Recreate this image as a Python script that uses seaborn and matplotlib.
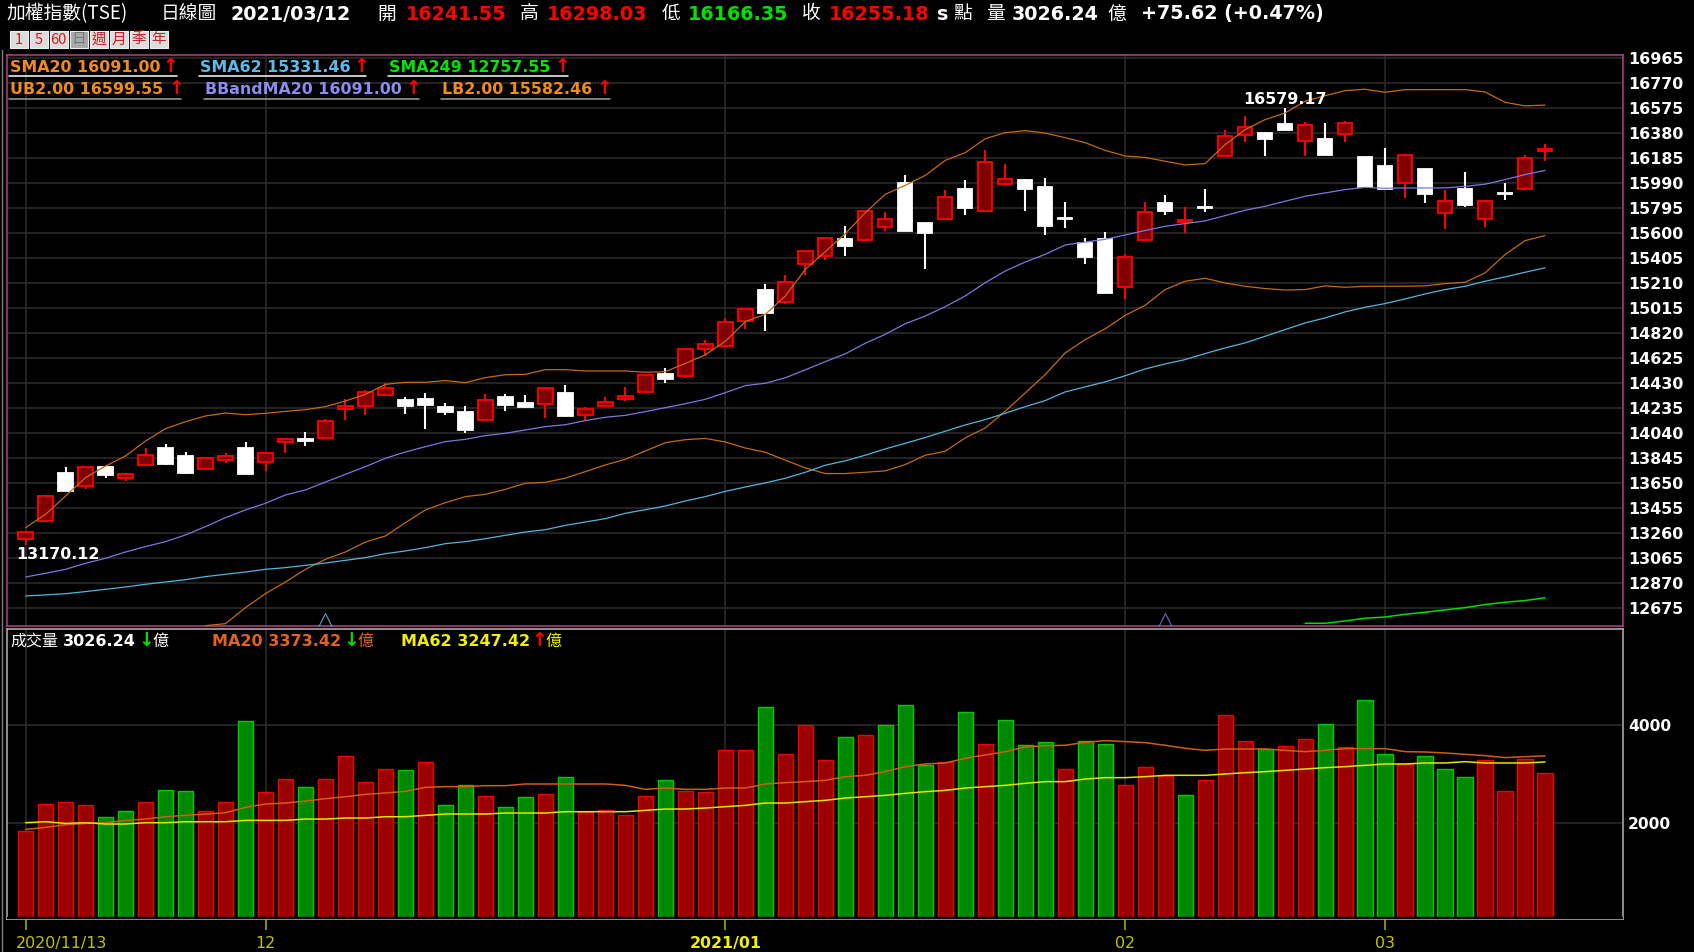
import matplotlib
matplotlib.use('Agg')
import matplotlib.pyplot as plt
from matplotlib.lines import Line2D
from matplotlib.patches import Rectangle
import seaborn as sns

# candles, oldest first (2020/11/13 .. 2021/03/12)
opens = [13218,13356,13730,13629,13777,13694,13793,13925,13866,13764,13832,13925,13814,13970,13996,14006,14232,14253,14339,
         14297,14308,14248,14209,14146,14326,14276,14271,14354,14185,14253,14310,14360,14505,14487,14700,14721,14916,15155,
         15064,15363,15423,15553,15550,15647,15992,15680,15714,15946,15777,15987,16013,15964,15719,15524,15556,15179,15548,
         15834,15691,15808,16201,16367,16383,16451,16318,16334,16378,16196,16128,15996,16100,15762,15944,15715,15918,15949,16241.55]
highs = [13270,13554,13780,13777,13780,13730,13925,13954,13894,13855,13884,13972,13884,14006,14053,14149,14310,14375,14430,
         14326,14357,14279,14256,14347,14347,14336,14393,14414,14245,14326,14404,14492,14549,14695,14765,14942,15007,15207,
         15272,15465,15563,15654,15777,15769,16052,15680,15935,16013,16247,16143,16026,16034,15847,15563,15613,15436,15847,
         15902,15806,15944,16409,16518,16391,16579.17,16469,16461,16479,16196,16266,16214,16100,15941,16079,15863,15990,16214,16298.03]
lows = [13170.12,13356,13587,13608,13694,13665,13793,13793,13723,13764,13811,13725,13746,13889,13938,14006,14141,14180,14339,
        14191,14076,14180,14045,14146,14211,14235,14162,14172,14141,14253,14289,14360,14435,14474,14643,14721,14856,14835,
        15051,15275,15389,15420,15550,15615,15615,15324,15714,15743,15777,15977,15771,15587,15644,15361,15137,15090,15548,
        15741,15603,15769,16201,16315,16206,16404,16206,16209,16315,15962,15949,15879,15837,15634,15808,15652,15858,15949,16166.35]
closes = [13270,13554,13587,13777,13715,13720,13873,13801,13733,13845,13866,13725,13884,13993,13977,14139,14256,14365,14393,
          14253,14258,14209,14063,14302,14261,14248,14393,14172,14227,14287,14331,14492,14466,14695,14734,14911,15007,14981,
          15220,15465,15563,15498,15777,15709,15615,15605,15886,15800,16159,16021,15948,15654,15709,15413,15137,15415,15764,
          15772,15707,15798,16360,16430,16336,16404,16448,16209,16458,15962,15949,16214,15907,15853,15819,15853,15910,16185,16255.18]

ub = [13304,13408,13551,13694,13785,13863,13980,14076,14131,14175,14198,14185,14196,14211,14224,14248,14292,14344,14422,
      14438,14438,14451,14435,14474,14497,14500,14536,14536,14526,14526,14526,14516,14521,14585,14652,14758,14911,14968,
      15111,15319,15457,15597,15761,15904,15974,16052,16169,16229,16338,16385,16401,16382,16346,16307,16247,16203,16192,
      16162,16133,16144,16292,16409,16487,16539,16630,16674,16713,16724,16700,16721,16721,16721,16721,16703,16622,16594,16600]
lb_start = 9
lb = [12539,12555,12680,12789,12880,12979,13057,13114,13192,13239,13343,13442,13499,13546,13564,13603,13650,13658,13690,
      13741,13793,13837,13902,13967,13990,14000,13972,13925,13892,13830,13770,13726,13726,13736,13747,13796,13869,13900,
      14004,14082,14212,14355,14498,14667,14771,14855,14960,15039,15161,15226,15249,15213,15187,15169,15158,15161,15190,
      15179,15187,15187,15187,15190,15208,15218,15291,15434,15543,15582]
sma20 = [12919,12948,12979,13026,13065,13114,13156,13195,13247,13312,13382,13442,13494,13559,13598,13660,13720,13780,13845,
         13894,13936,13975,13993,14022,14040,14066,14092,14107,14139,14165,14180,14209,14240,14271,14305,14357,14412,14430,
         14473,14535,14599,14660,14742,14812,14895,14955,15028,15111,15215,15306,15376,15436,15509,15532,15553,15587,15622,
         15655,15676,15697,15738,15780,15811,15850,15889,15915,15941,15959,15951,15954,15954,15954,15967,15983,16019,16058,16091]
sma62 = [12771,12779,12789,12805,12823,12841,12862,12880,12898,12922,12940,12958,12979,12992,13010,13028,13049,13070,13101,
         13122,13148,13179,13195,13218,13244,13270,13288,13322,13348,13374,13416,13444,13473,13512,13546,13587,13621,13653,
         13689,13736,13791,13825,13869,13918,13962,14007,14056,14105,14147,14196,14248,14295,14363,14402,14441,14489,14542,
         14581,14615,14662,14706,14745,14797,14849,14901,14940,14987,15023,15052,15088,15127,15161,15187,15226,15260,15296,15331]
sma249_start = 64
sma249 = [12558,12558,12576,12597,12607,12628,12644,12662,12680,12704,12722,12735,12757]

volume = [1829,2390,2418,2363,2110,2233,2418,2671,2644,2233,2418,4082,2623,2904,2726,2904,3370,2829,3110,3082,3240,2363,2774,
          2548,2315,2521,2596,2932,2226,2253,2158,2548,2877,2644,2623,3493,3493,4370,3418,4007,3288,3754,3802,4007,4418,3185,
          3240,4267,3623,4110,3596,3651,3110,3671,3623,2774,3137,2959,2569,2877,4213,3671,3521,3575,3726,4034,3548,4521,3418,
          3212,3370,3110,2932,3288,2644,3315,3026]
vol_color = ['r','r','r','r','g','g','r','g','g','r','r','g','r','r','g','r','r','r','r','g','r','g','g','r','g','g','r','g',
             'r','r','r','r','g','r','r','r','r','g','r','r','r','g','r','g','g','g','r','g','r','g','g','g','r','g','g','r',
             'r','r','g','r','r','r','g','r','r','g','r','g','g','r','g','g','g','r','r','r','r']
vol_ma20 = [1863,1904,1959,1986,2000,2048,2075,2123,2151,2178,2205,2315,2384,2404,2445,2493,2534,2582,2610,2644,2726,2740,2740,
            2760,2760,2795,2795,2795,2795,2795,2767,2685,2712,2685,2685,2712,2712,2795,2822,2843,2870,2945,2973,3048,3151,3206,
            3226,3322,3391,3459,3555,3582,3589,3651,3685,3665,3644,3589,3528,3486,3514,3514,3514,3486,3459,3486,3521,3521,3521,
            3459,3452,3432,3404,3377,3336,3356,3373]
vol_ma62 = [2000,2020,1986,2000,1973,1973,2000,2000,2020,2020,2020,2048,2048,2048,2075,2075,2096,2096,2123,2123,2151,2178,2178,
            2178,2199,2199,2199,2226,2226,2226,2226,2253,2281,2281,2301,2329,2356,2404,2404,2432,2459,2507,2534,2562,2603,2637,
            2664,2712,2740,2767,2808,2843,2843,2897,2925,2925,2945,2973,2973,2973,3000,3027,3048,3075,3103,3130,3151,3178,3206,
            3206,3226,3226,3253,3226,3226,3226,3247]

price_ticks = [16965,16770,16575,16380,16185,15990,15795,15600,15405,15210,15015,14820,14625,14430,14235,14040,13845,13650,
               13455,13260,13065,12870,12675]
vol_ticks = [2000, 4000]
month_idx = [0, 12, 35, 55, 68]
month_labels = ['2020/11/13', '12', '2021/01', '02', '03']

W, H = 1694, 952
sns.set_theme(style='dark', rc={'figure.facecolor': 'black', 'axes.facecolor': 'black', 'axes.grid': True,
                                'grid.color': '#2a2a2a', 'grid.linewidth': 1.2})
plt.rcParams['font.family'] = ['DejaVu Sans', 'Noto Sans CJK TC']
CJK = ['Noto Sans CJK TC', 'DejaVu Sans']

fig = plt.figure(figsize=(W / 100, H / 100), dpi=100)


def panel(left, top, right, bottom):
    return fig.add_axes([left / W, 1 - bottom / H, (right - left) / W, (bottom - top) / H])


def put(x, y, s, color='white', size=11.4, bold=True, cjk=False):
    fig.text(x / W, 1 - y / H, s, color=color, fontsize=size, va='center', ha='left',
             fontweight='bold' if bold else 'normal', family=CJK if cjk else None)


ax1 = panel(7, 55, 1623, 625.7)
ax2 = panel(7, 629, 1623, 919)
idx = list(range(len(closes)))

# candles: bodies and wicks
wick_col = ['#ff0000' if c >= o else 'white' for o, c in zip(opens, closes)]
face_col = ['#800000' if c >= o else 'white' for o, c in zip(opens, closes)]
ax1.vlines(idx, lows, highs, colors=wick_col, linewidth=1.5, zorder=2)
ax1.bar(idx, [abs(c - o) for o, c in zip(opens, closes)], bottom=[min(o, c) for o, c in zip(opens, closes)],
        width=0.72, color=face_col, edgecolor=wick_col, linewidth=1.3, zorder=3)

# indicator lines
sns.lineplot(x=idx, y=ub, color='#c46a10', linewidth=0.9, estimator=None, ax=ax1, zorder=4)
sns.lineplot(x=idx[lb_start:], y=lb, color='#c46a10', linewidth=0.9, estimator=None, ax=ax1, zorder=4)
sns.lineplot(x=idx, y=sma62, color='#55b4dc', linewidth=0.9, estimator=None, ax=ax1, zorder=4)
sns.lineplot(x=idx, y=sma20, color='#7a78e0', linewidth=0.9, estimator=None, ax=ax1, zorder=4)
sns.lineplot(x=idx[sma249_start:], y=sma249, color='#00dc00', linewidth=1.1, estimator=None, ax=ax1, zorder=4)

# small cross signals on the lower edge
ax1.plot([15], [12584], marker='^', ms=9.5, mfc='none', mec='#55a0c0', mew=0.8, zorder=4)
ax1.plot([57], [12584], marker='^', ms=9.5, mfc='none', mec='#6a68c0', mew=0.8, zorder=4)

ax1.text(1.6, 13098, '13170.12', color='white', fontsize=11.4, fontweight='bold', ha='center', va='center', zorder=6)
ax1.text(63, 16647, '16579.17', color='white', fontsize=11.4, fontweight='bold', ha='center', va='center', zorder=6)

ax1.set_xlim(-0.93, 79.9)
ax1.set_ylim(12539, 16991)
ax1.set_yticks(price_ticks)
ax1.set_xticks(month_idx)
ax1.set_xticklabels([])
ax1.yaxis.tick_right()
ax1.tick_params(axis='y', length=0, pad=3.5, labelsize=11.4, labelcolor='white')
ax1.tick_params(axis='x', length=0)
for lab in ax1.get_yticklabels():
    lab.set_fontweight('bold')
for sp in ax1.spines.values():
    sp.set_visible(True)
    sp.set_color('#b8407f')
    sp.set_linewidth(1.1)
ax1.set_axisbelow(True)

# volume panel
sns.barplot(x=idx, y=volume, hue=vol_color, hue_order=['r', 'g'], palette={'r': '#990000', 'g': '#008800'},
            native_scale=True, dodge=False, width=0.76, saturation=1, legend=False, linewidth=1, ax=ax2)
for cont, edge in zip(ax2.containers, ['#f00000', '#00c800']):
    for b in cont:
        b.set_edgecolor(edge)
ax2.axhspan(23, 64, color='black', zorder=5)
sns.lineplot(x=idx, y=vol_ma20, color='#cf5e14', linewidth=1.1, estimator=None, ax=ax2, zorder=6)
sns.lineplot(x=idx, y=vol_ma62, color='#e4e400', linewidth=1.1, estimator=None, ax=ax2, zorder=6)
ax2.set_xlim(-0.93, 79.9)
ax2.set_ylim(23, 5977)
ax2.set_yticks(vol_ticks)
ax2.yaxis.tick_right()
ax2.set_xticks(month_idx)
ax2.set_xticklabels([])
ax2.set_xlabel('')
ax2.set_ylabel('')
ax2.tick_params(axis='y', length=0, pad=3.5, labelsize=11.2, labelcolor='white')
ax2.tick_params(axis='x', length=8, width=1.1, color='#b4b400', bottom=True)
for lab in ax2.get_yticklabels():
    lab.set_fontweight('bold')
for sp in ax2.spines.values():
    sp.set_visible(True)
    sp.set_color('#a8a8a8')
    sp.set_linewidth(1.2)
ax2.set_axisbelow(True)

# month labels under the axis
label_x = [1.8, 12, 35, 55, 68]
for x, s in zip(label_x, month_labels):
    bold = s == '2021/01'
    ax2.text(x, -0.083, s, transform=ax2.get_xaxis_transform(), ha='center', va='center',
             color='#f0f000' if bold else '#c4c400', fontsize=11.4, fontweight='bold' if bold else 'normal')

# title row
put(6, 14, '加權指數(TSE)', size=13.5, bold=False, cjk=True)
put(161, 14, '日線圖', size=13.5, bold=False, cjk=True)
put(231, 14, '2021/03/12', size=13.8)
put(377, 14, '開', size=13.5, bold=False, cjk=True)
put(406, 14, '16241.55', '#ff0000', 13.8)
put(520, 14, '高', size=13.5, bold=False, cjk=True)
put(547, 14, '16298.03', '#ff0000', 13.8)
put(662, 14, '低', size=13.5, bold=False, cjk=True)
put(688, 14, '16166.35', '#00e000', 13.8)
put(802, 14, '收', size=13.5, bold=False, cjk=True)
put(829, 14, '16255.18', '#ff0000', 13.8)
put(937, 14, 's', size=13.8)
put(953, 14, '點', size=13.5, bold=False, cjk=True)
put(986, 14, '量', size=13.5, bold=False, cjk=True)
put(1012, 14, '3026.24', size=13.8)
put(1107, 14, '億', size=13.5, bold=False, cjk=True)
put(1141, 14, '+75.62 (+0.47%)', size=13.8)

# period buttons
buttons = ['1', '5', '60', '日', '週', '月', '季', '年']
for i, s in enumerate(buttons):
    sel = s == '日'
    x0 = 9.5 + 20 * i
    fig.add_artist(Rectangle((x0 / W, 1 - 48 / H), 18.5 / W, 17 / H, transform=fig.transFigure,
                             facecolor='#a8a8a8' if sel else '#dcdcdc', edgecolor='#f0f0f0', linewidth=0.8))
    fig.text((x0 + 9.2) / W, 1 - 39.5 / H, s, color='#777777' if sel else '#c81e1e', fontsize=10.5,
             ha='center', va='center', family=CJK)

# indicator legends
leg_rows = [
    (67, 76.3, 'white', [('SMA20 16091.00', '#f08c1e', 10, 168, 177),
                         ('SMA62 15331.46', '#5fb9e6', 199.5, 359, 366),
                         ('SMA249 12757.55', '#00e600', 389, 560, 568)]),
    (90, 98.7, '#a0a0a0', [('UB2.00 16599.55', '#f08c1e', 10, 174, 181),
                           ('BBandMA20 16091.00', '#8c8cf0', 205, 411, 419),
                           ('LB2.00 15582.46', '#f08c1e', 442, 602, 610)]),
]
for y, uy, ucol, items in leg_rows:
    for s, col, x, ax_x, end in items:
        put(x, y, s, col)
        put(ax_x - 6, y - 1, '↑', '#ff0000', 13.5)
        fig.add_artist(Line2D([(x - 1) / W, end / W], [1 - uy / H, 1 - uy / H], color=ucol, linewidth=1.1))

# volume legends
put(10, 641, '成交量', size=11.5, bold=False, cjk=True)
put(63, 641, '3026.24', size=11.5)
put(138, 641, '↓', '#00e000', 13.5)
put(152, 641, '億', size=11.5, bold=False, cjk=True)
put(212, 641, 'MA20 3373.42', '#e0641e', 11.5)
put(343, 641, '↓', '#00e000', 13.5)
put(357, 641, '億', '#e0641e', 11.5, False, True)
put(401, 641, 'MA62 3247.42', '#f0f000', 11.5)
put(531, 641, '↑', '#ff0000', 13.5)
put(545, 641, '億', '#f0f000', 11.5, False, True)

# outer window edge on the left
fig.add_artist(Line2D([1.5 / W, 1.5 / W], [1 - 50 / H, 0], color='#808080', linewidth=1))

fig.savefig('out.png', dpi=100, facecolor='black')
